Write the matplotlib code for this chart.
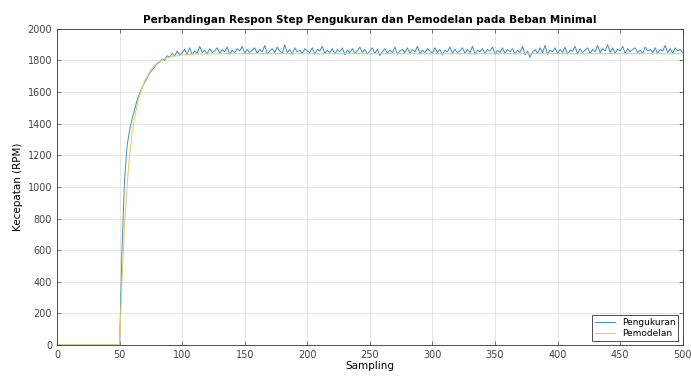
import matplotlib
matplotlib.use('Agg')
import matplotlib.pyplot as plt
import numpy as np

# pengukuran, satu nilai tiap 2 sampling (0, 2, ..., 500)
rpm_ukur = [0] * 26 + [
    620, 1050, 1260, 1360, 1430, 1490, 1550, 1590, 1630, 1660,
    1690, 1720, 1740, 1760, 1780, 1790, 1810, 1800, 1830, 1820,
    1845, 1830, 1860, 1835, 1850,
    1870, 1840, 1880, 1835, 1860, 1845, 1890, 1850, 1865, 1840,
    1875, 1850, 1860, 1880, 1845, 1870, 1855, 1885, 1840, 1865,
    1850, 1875, 1860, 1890, 1845, 1870, 1850, 1865, 1880, 1845,
    1870, 1855, 1895, 1840, 1860, 1875, 1850, 1885, 1860, 1845,
    1900, 1850, 1870, 1840, 1880, 1855, 1865, 1845, 1875, 1860,
    1850, 1880, 1840, 1870, 1860, 1890, 1845, 1865, 1850, 1875,
    1840, 1870, 1855, 1880, 1835, 1865, 1850, 1875, 1845, 1860,
    1885, 1850, 1870, 1840, 1860, 1880, 1845, 1870, 1830, 1855,
    1875, 1845, 1865, 1850, 1885, 1840, 1860, 1870, 1850, 1880,
    1845, 1870, 1855, 1890, 1840, 1865, 1850, 1875, 1860, 1845,
    1880, 1850, 1870, 1835, 1865, 1855, 1885, 1845, 1870, 1850,
    1860, 1880, 1845, 1870, 1850, 1890, 1840, 1865, 1855, 1875,
    1845, 1870, 1860, 1885, 1840, 1865, 1850, 1880, 1845, 1870,
    1855, 1875, 1840, 1865, 1850, 1890, 1835, 1860, 1820, 1855,
    1870, 1845, 1880, 1850, 1895, 1840, 1865, 1855, 1880, 1845,
    1870, 1850, 1885, 1840, 1865, 1860, 1890, 1845, 1875, 1850,
    1865, 1880, 1845, 1870, 1855, 1895, 1850, 1875, 1860, 1900,
    1850, 1880, 1845, 1870, 1860, 1890, 1845, 1875, 1855, 1870,
    1880, 1850, 1865, 1845, 1885, 1860, 1870, 1850, 1880, 1845,
    1870, 1860, 1895, 1850, 1875, 1845, 1880, 1860, 1870, 1850,
]
samp_ukur = np.arange(0, 501, 2)

# pemodelan
samp_model = [0, 50, 52, 54, 56, 58, 60, 63, 66, 70, 75, 80, 85, 90,
              100, 110, 125, 150, 200, 300, 400, 500]
rpm_model = [0, 0, 420, 760, 1010, 1200, 1340, 1480, 1580, 1670, 1740,
             1785, 1810, 1822, 1835, 1840, 1842, 1843, 1843, 1843, 1843, 1843]

plt.rcParams['font.family'] = 'DejaVu Sans'
fig = plt.figure(figsize=(6.91, 3.8), dpi=100)
ax = fig.add_axes([0.0825, 0.092, 0.9055, 0.832])

ax.plot(samp_ukur, rpm_ukur, color='#3E8FC4', lw=0.7, label='Pengukuran')
ax.plot(samp_model, rpm_model, color='#E6CF6A', lw=0.8, label='Pemodelan')

ax.set_xlim(0, 500)
ax.set_ylim(0, 2000)
ax.set_xticks(range(0, 501, 50))
ax.set_yticks(range(0, 2001, 200))
ax.tick_params(direction='in', top=True, right=True, labelsize=7,
               length=3, width=0.5, colors='#444444')
ax.grid(True, color='#e0e0e0', lw=0.6)
for s in ax.spines.values():
    s.set_color('#333333')
    s.set_linewidth(0.6)

ax.set_title('Perbandingan Respon Step Pengukuran dan Pemodelan pada Beban Minimal',
             fontsize=7.5, fontweight='bold', pad=4)
ax.set_xlabel('Sampling', fontsize=7.5, labelpad=1)
ax.set_ylabel('Kecepatan (RPM)', fontsize=7.5, labelpad=3)

leg = ax.legend(loc='lower right', fontsize=6.5, fancybox=False,
                framealpha=1, handlelength=2.2, borderpad=0.3,
                labelspacing=0.2)
leg.get_frame().set_edgecolor('#333333')
leg.get_frame().set_linewidth(0.6)

fig.savefig('out.png', dpi=100)
